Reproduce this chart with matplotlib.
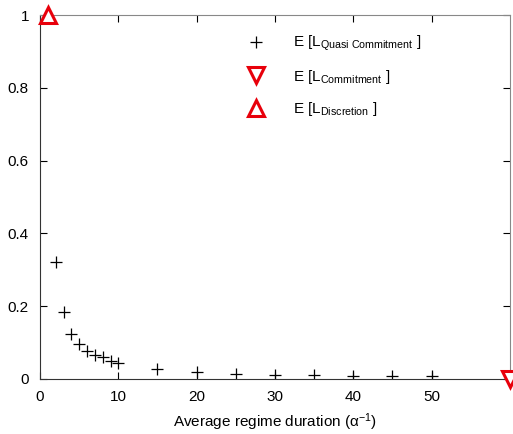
import numpy as np
import matplotlib
matplotlib.use("Agg")
import matplotlib.pyplot as plt

plt.rcParams['font.family'] = ['Liberation Sans', 'DejaVu Sans']
plt.rcParams['mathtext.fontset'] = 'custom'
plt.rcParams['mathtext.rm'] = 'Liberation Sans'
plt.rcParams['mathtext.it'] = 'Liberation Sans:italic'

# datos
duracion = [2, 3, 4, 5, 6, 7, 8, 9, 10, 15, 20, 25, 30, 35, 40, 45, 50]
perdida_quasi = [0.322, 0.185, 0.124, 0.096, 0.077, 0.066, 0.059, 0.050, 0.044,
                 0.028, 0.019, 0.014, 0.011, 0.010, 0.009, 0.008, 0.007]
dur_commit = [60]
perdida_commit = [0.0]
dur_discr = [1]
perdida_discr = [1.0]

xticks = [0, 10, 20, 30, 40, 50]
yticks = [0, 0.2, 0.4, 0.6, 0.8, 1]
ylabels = ['0', '0.2', '0.4', '0.6', '0.8', '1']

fig = plt.figure(figsize=(5.13, 4.34), dpi=100)
ax = fig.add_axes([0.078, 0.127, 0.916, 0.838])

ax.plot(duracion, perdida_quasi, '+', color='black', markersize=9, mew=0.9,
        linestyle='none', label=r'E [L$_{\mathrm{Quasi\ Commitment}}$ ]')
ax.plot(dur_commit, perdida_commit, 'v', markersize=12, mew=2.2, mec='#e8000b',
        mfc='white', linestyle='none', clip_on=False, zorder=5,
        label=r'E [L$_{\mathrm{Commitment}}$ ]')
ax.plot(dur_discr, perdida_discr, '^', markersize=12, mew=2.2, mec='#e8000b',
        mfc='white', linestyle='none', clip_on=False, zorder=5,
        label=r'E [L$_{\mathrm{Discretion}}$ ]')

ax.set_xlim(0, 60)
ax.set_ylim(0, 1)
ax.set_xticks(xticks)
ax.set_yticks(yticks)
ax.set_yticklabels(ylabels)
ax.tick_params(direction='in', top=True, right=True, labelsize=11, length=5,
               width=0.8, pad=8)
for s in ['left', 'bottom']:
    ax.spines[s].set_color('#333333')
for s in ['top', 'right']:
    ax.spines[s].set_color('#888888')

ax.set_xlabel('Average regime duration (α$^{\\mathrm{-1}}$)', fontsize=11,
              labelpad=5)

ax.legend(loc='upper left', bbox_to_anchor=(0.415, 0.965), frameon=False,
          fontsize=11, labelspacing=0.95, handletextpad=1.4, borderaxespad=0)

fig.savefig('out.png', dpi=100)
